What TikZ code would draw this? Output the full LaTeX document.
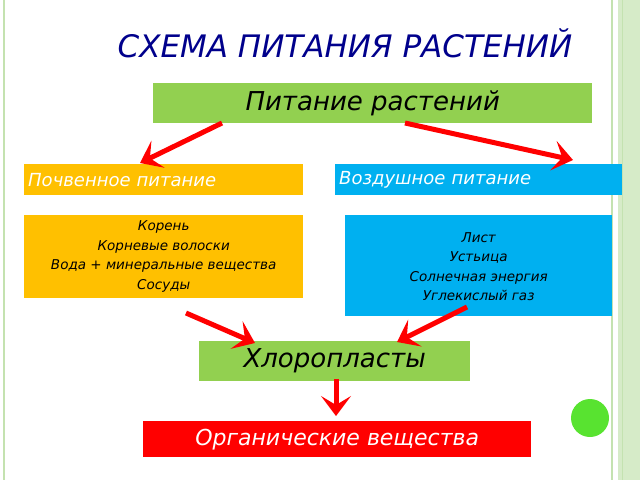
\documentclass[tikz,border=0pt]{standalone}
\usepackage{fontspec}
\setmainfont{DejaVu Sans}
\usetikzlibrary{arrows.meta}
\definecolor{grn}{HTML}{92D050}
\definecolor{org}{HTML}{FFC000}
\definecolor{blu}{HTML}{00B0F0}
\definecolor{edge}{HTML}{C4E2B0}
\begin{document}
\begin{tikzpicture}[x=1pt,y=-1pt,
  box/.style={anchor=north west,inner sep=0pt,font=\itshape},
  red arrow/.style={draw=red,line width=5pt,-{Stealth[length=20pt,width=30pt,inset=9pt]}}]
\useasboundingbox (0,0) rectangle (640,480);
% slide frame
\draw[edge,line width=1.5pt] (4,0) -- (4,480);
\draw[edge,line width=1.5pt] (612,0) -- (612,480);
\fill[edge!70] (618,0) rectangle (640,480);
\draw[edge,line width=1pt] (622,0) -- (622,480);
\fill[grn!60!green] (590,418) circle (19);
\begin{scope}[every node/.style={box}]
\node[font=\itshape\fontsize{31}{36}\selectfont,text=blue!55!black,anchor=center] (title) at (345,43) {СХЕМА ПИТАНИЯ РАСТЕНИЙ};
\node[fill=grn,minimum width=439,minimum height=40,font=\itshape\fontsize{26}{30}\selectfont] (food) at (153,83) {Питание растений};
\node[fill=org,minimum width=279,minimum height=31,text=white,font=\itshape\fontsize{18}{21}\selectfont,text width=271,inner xsep=4pt] (soil) at (24,164) {Почвенное питание};
\node[fill=blu,minimum width=287,minimum height=31,text=white,font=\itshape\fontsize{18}{21}\selectfont,text width=279,inner xsep=4pt] (air) at (335,164) {Воздушное питание};
\node[fill=org,minimum width=279,minimum height=83,align=center,anchor=north west,font=\itshape\fontsize{13.5}{19.5}\selectfont] (soild) at (24,215) {Корень\\Корневые волоски\\Вода + минеральные вещества\\Сосуды};
\node[fill=blu,minimum width=267,minimum height=101,align=center,font=\itshape\fontsize{13.5}{19.5}\selectfont] (aird) at (345,215) {\\[-8pt]Лист\\Устьица\\Солнечная энергия\\Углекислый газ};
\node[fill=grn,minimum width=271,minimum height=40,font=\itshape\fontsize{26}{30}\selectfont] (chl) at (199,341) {Хлоропласты};
\node[fill=red,minimum width=388,minimum height=36,text=white,font=\itshape\fontsize{22}{26}\selectfont] (org) at (143,421) {Органические вещества};
\end{scope}
\coordinate (a1) at (222,123); \coordinate (a2) at (405,123);
\coordinate (b1) at (186,313); \coordinate (b2) at (467,307);
\coordinate (c1) at (336,379);
\draw[red arrow] (a1) -- (140,163);
\draw[red arrow] (a2) -- (573,160);
\draw[red arrow] (b1) -- (255,343);
\draw[red arrow] (b2) -- (397,342);
\draw[red arrow] (c1) -- (336,416);
\end{tikzpicture}
\end{document}
